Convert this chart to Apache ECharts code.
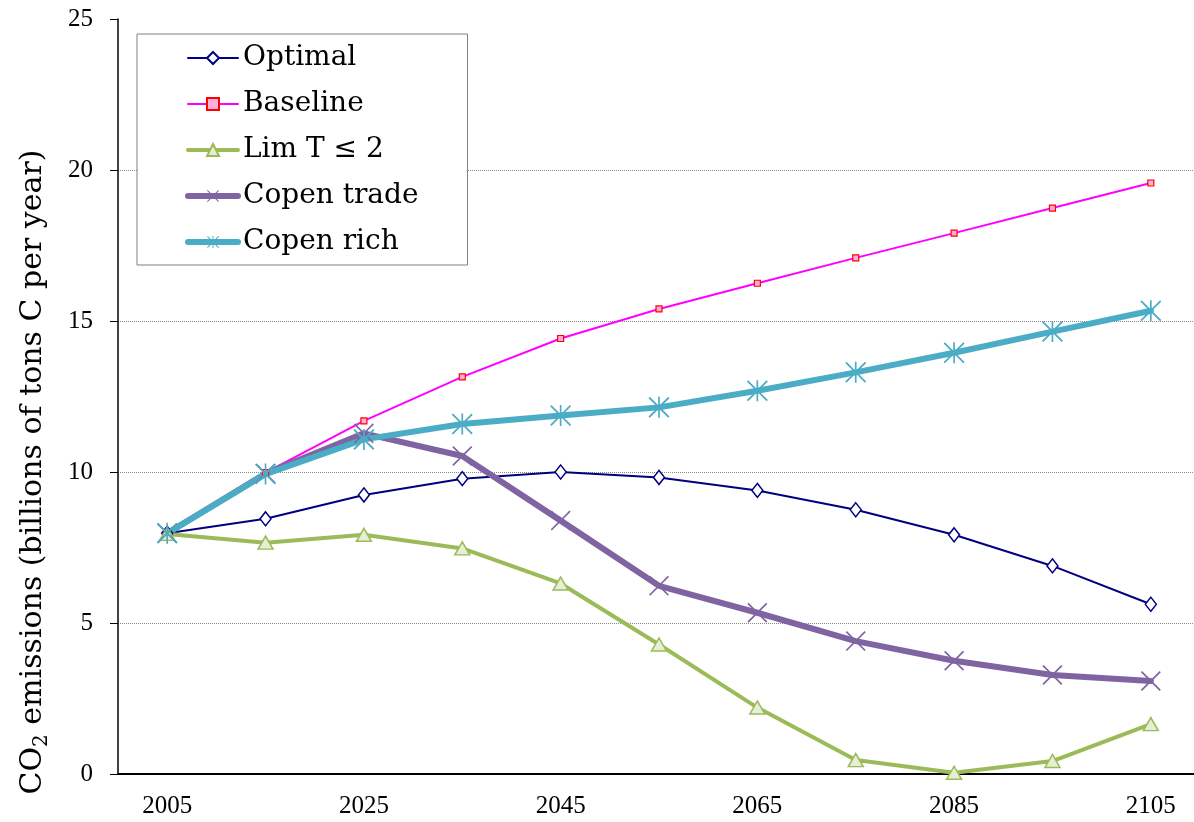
<!DOCTYPE html>
<html>
<head>
<meta charset="utf-8">
<script src="https://cdn.jsdelivr.net/npm/echarts@6/dist/echarts.min.js"></script>
<style>
html,body{margin:0;padding:0;background:#fff;overflow:hidden;}
#chart{width:1194px;height:822px;}
</style>
</head>
<body>
<div id="chart"></div>
<script>
const years = ['2005','2015','2025','2035','2045','2055','2065','2075','2085','2095','2105'];
const optimal   = [7.97, 8.45, 9.24, 9.78, 10.0, 9.82, 9.39, 8.75, 7.92, 6.89, 5.62];
const baseline  = [7.97, 9.98, 11.69, 13.15, 14.42, 15.40, 16.25, 17.09, 17.91, 18.74, 19.57];
const limT2     = [7.95, 7.66, 7.92, 7.47, 6.31, 4.29, 2.20, 0.46, 0.04, 0.43, 1.65];
const copenTrade= [7.97, 9.95, 11.28, 10.53, 8.39, 6.23, 5.34, 4.40, 3.75, 3.28, 3.08];
const copenRich = [7.97, 9.93, 11.08, 11.59, 11.87, 12.14, 12.69, 13.30, 13.95, 14.65, 15.34];
const seriesNames = ['Optimal','Baseline','Lim T \u2264 2','Copen trade','Copen rich'];
const yTicks = [0, 5, 10, 15, 20, 25];

const xPath = 'path://M0,1.2 L1.2,0 L10,8.8 L18.8,0 L20,1.2 L11.2,10 L20,18.8 L18.8,20 L10,11.2 L1.2,20 L0,18.8 L8.8,10 Z';
const starPath = 'path://M0,1.2 L1.2,0 L10,8.8 L18.8,0 L20,1.2 L11.2,10 L20,18.8 L18.8,20 L10,11.2 L1.2,20 L0,18.8 L8.8,10 Z M9.2,0 L10.8,0 L10.8,20 L9.2,20 Z';

const chart = echarts.init(document.getElementById('chart'), null, {renderer:'canvas'});
const numFont = 'Liberation Serif';
const txtFont = 'DejaVu Serif';

function mk(name, data, color, width, symbol, size, itemStyle){
  return {
    name, type:'line', data, symbol, symbolSize:size, showSymbol:true,
    lineStyle:{color, width, cap:'round', join:'round'},
    itemStyle: Object.assign({color}, itemStyle||{}),
    emphasis:{disabled:true}, animation:false, z:2
  };
}

const legendWidths = [2, 2, 4, 6, 6];

chart.setOption({
  animation:false,
  backgroundColor:'#fff',
  grid:{left:118, width:1082, top:19, bottom:48, containLabel:false, outerBoundsMode:'none'},
  legend:{
    orient:'vertical', left:137, top:34,
    padding:[7,49,6,48],
    backgroundColor:'#fff', borderColor:'#808080', borderWidth:1,
    itemWidth:50, itemHeight:15, itemGap:12,
    textStyle:{fontFamily:txtFont, fontSize:28, color:'#000', lineHeight:34},
    data: seriesNames.map((n,i)=>({name:n, lineStyle:{width:legendWidths[i], cap:'round'}}))
  },
  xAxis:{
    type:'category', data:years, boundaryGap:true,
    axisLine:{lineStyle:{color:'#000', width:2}},
    axisTick:{interval:0, length:8, lineStyle:{color:'#000', width:1}},
    axisLabel:{interval:1, margin:20, fontFamily:numFont, fontSize:25, color:'#000'},
    splitLine:{show:false}
  },
  yAxis:{
    type:'value', min:yTicks[0], max:yTicks[yTicks.length-1], interval:5,
    axisLine:{show:true, lineStyle:{color:'#000', width:1.5}},
    axisTick:{show:true, length:8, lineStyle:{color:'#000', width:1}},
    axisLabel:{margin:25, fontFamily:numFont, fontSize:25, color:'#000'},
    splitLine:{show:true, lineStyle:{type:'dotted', color:['#fff','#888','#888','#888','#888','#fff'], width:1}}
  },
  graphic:[{
    type:'text', x:30, y:472, rotation:Math.PI/2,
    style:{
      text:'{a|CO}{b|2}{a| emissions (billions of tons C per year)}',
      align:'center', verticalAlign:'middle',
      rich:{
        a:{fontFamily:txtFont, fontSize:30, fill:'#000', lineHeight:36, verticalAlign:'bottom'},
        b:{fontFamily:txtFont, fontSize:20, fill:'#000', lineHeight:20, verticalAlign:'bottom', padding:[0,0,-4,0]}
      }
    }
  }],
  series:[
    mk(seriesNames[0], optimal, '#000080', 2, 'diamond', [11,14], {color:'#fff', borderColor:'#000080', borderWidth:1.5}),
    mk(seriesNames[1], baseline, '#FF00FF', 2, 'rect', 6, {color:'#FFB0D8', borderColor:'#FF0000', borderWidth:1.2}),
    mk(seriesNames[2], limT2, '#9BBB59', 4, 'triangle', [15,13], {color:'#E6EED5', borderColor:'#9BBB59', borderWidth:1.5}),
    mk(seriesNames[3], copenTrade, '#8064A2', 6, xPath, 20, {color:'#8064A2'}),
    mk(seriesNames[4], copenRich, '#4BACC6', 6, starPath, 21, {color:'#4BACC6'})
  ]
});
</script>
</body>
</html>
